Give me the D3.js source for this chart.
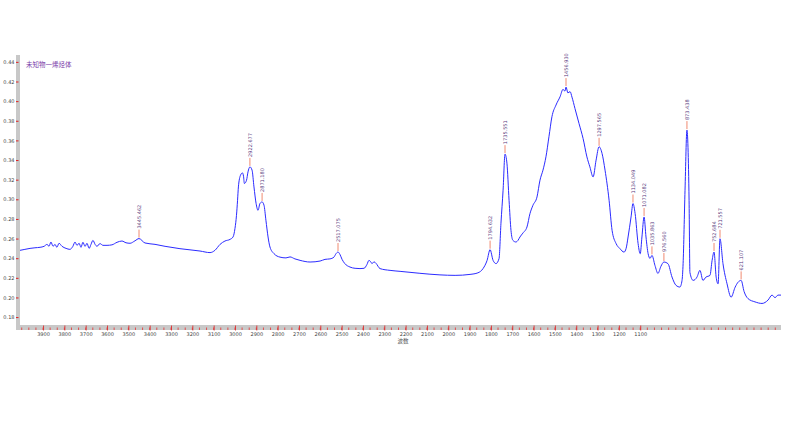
<!DOCTYPE html>
<html>
<head>
<meta charset="utf-8">
<script src="https://cdn.jsdelivr.net/npm/d3@7/dist/d3.min.js"></script>
<style>
  body { margin: 0; background: #fff; }
</style>
</head>
<body>
<script>
// spectrum (cm-1 / absorbance)
const wavenumber = [4008, 3985, 3961, 3938, 3914, 3895, 3881, 3872, 3863, 3853, 3844, 3835, 3825, 3811, 3792, 3774, 3760, 3750, 3741, 3731,
    3722, 3713, 3703, 3694, 3684, 3675, 3666, 3656, 3647, 3633, 3619, 3600, 3577, 3553, 3530, 3511, 3492, 3469, 3450, 3422,
    3375, 3328, 3258, 3164, 3117, 3094, 3070, 3047, 3023, 3009, 3000, 2993, 2988, 2984, 2974, 2965, 2960, 2956, 2946, 2939,
    2930, 2920, 2911, 2901, 2892, 2883, 2873, 2864, 2855, 2845, 2836, 2817, 2789, 2761, 2742, 2719, 2695, 2648, 2601, 2578,
    2555, 2536, 2527, 2517, 2508, 2498, 2485, 2461, 2437, 2414, 2395, 2381, 2372, 2362, 2358, 2348, 2339, 2320, 2273, 2226,
    2133, 2039, 1968, 1898, 1861, 1837, 1818, 1804, 1790, 1776, 1762, 1753, 1743, 1734, 1725, 1715, 1706, 1697, 1683, 1673,
    1664, 1650, 1631, 1617, 1603, 1584, 1570, 1556, 1542, 1528, 1514, 1495, 1476, 1462, 1453, 1448, 1439, 1429, 1420, 1406,
    1387, 1368, 1350, 1336, 1321, 1307, 1293, 1279, 1265, 1246, 1232, 1213, 1195, 1176, 1166, 1157, 1143, 1134, 1124, 1110,
    1100, 1092, 1082, 1073, 1063, 1054, 1045, 1031, 1017, 1003, 989, 970, 951, 932, 914, 904, 899, 890, 881, 871,
    867, 852, 834, 820, 806, 792, 773, 763, 754, 744, 735, 726, 712, 693, 674, 655, 641, 627, 613, 595,
    562, 529, 501, 482, 468, 454, 440];

const absorbance = [0.2480, 0.2490, 0.2500, 0.2506, 0.2511, 0.2521, 0.2541, 0.2521, 0.2565, 0.2521, 0.2541, 0.2511, 0.2552, 0.2521, 0.2500, 0.2490, 0.2521, 0.2565, 0.2531, 0.2552,
    0.2511, 0.2562, 0.2521, 0.2552, 0.2500, 0.2541, 0.2582, 0.2541, 0.2521, 0.2549, 0.2531, 0.2531, 0.2536, 0.2562, 0.2575, 0.2557, 0.2552, 0.2577, 0.2600, 0.2555,
    0.2541, 0.2521, 0.2497, 0.2473, 0.2457, 0.2480, 0.2541, 0.2575, 0.2592, 0.2617, 0.2704, 0.2837, 0.2990, 0.3126, 0.3246, 0.3269, 0.3235, 0.3161, 0.3194, 0.3279,
    0.3330, 0.3297, 0.3126, 0.2957, 0.2888, 0.2957, 0.2973, 0.2940, 0.2787, 0.2616, 0.2514, 0.2446, 0.2411, 0.2403, 0.2413, 0.2393, 0.2378, 0.2361, 0.2371, 0.2388,
    0.2393, 0.2411, 0.2444, 0.2463, 0.2439, 0.2388, 0.2345, 0.2310, 0.2297, 0.2294, 0.2297, 0.2337, 0.2378, 0.2358, 0.2345, 0.2363, 0.2348, 0.2294, 0.2276, 0.2266,
    0.2246, 0.2230, 0.2225, 0.2235, 0.2251, 0.2294, 0.2378, 0.2487, 0.2378, 0.2345, 0.2396, 0.2756, 0.3093, 0.3460, 0.3368, 0.2990, 0.2684, 0.2582, 0.2565, 0.2582,
    0.2616, 0.2656, 0.2718, 0.2854, 0.2939, 0.3024, 0.3195, 0.3297, 0.3433, 0.3637, 0.3841, 0.3960, 0.4044, 0.4120, 0.4102, 0.4143, 0.4084, 0.4097, 0.4041, 0.3925,
    0.3772, 0.3620, 0.3432, 0.3330, 0.3228, 0.3399, 0.3535, 0.3467, 0.3297, 0.2990, 0.2684, 0.2548, 0.2497, 0.2462, 0.2501, 0.2616, 0.2820, 0.2957, 0.2855, 0.2548,
    0.2446, 0.2616, 0.2820, 0.2616, 0.2446, 0.2398, 0.2429, 0.2327, 0.2245, 0.2317, 0.2361, 0.2344, 0.2208, 0.2123, 0.2106, 0.2174, 0.2344, 0.3092, 0.3705, 0.2990,
    0.2255, 0.2174, 0.2207, 0.2276, 0.2174, 0.2207, 0.2225, 0.2378, 0.2463, 0.2207, 0.2139, 0.2598, 0.2344, 0.2139, 0.2003, 0.2105, 0.2156, 0.2174, 0.2060, 0.1989,
    0.1955, 0.1939, 0.1973, 0.2024, 0.1998, 0.2024, 0.2024];

// marked peaks: where they sit on the curve and the printed value
const peakAt = [3450, 2930, 2873, 2517, 1804, 1734, 1448, 1293, 1134, 1082, 1045, 989, 881, 754, 726, 627];
const peakText = ["3445.462", "2922.677", "2871.180", "2517.075", "1794.632", "1735.551", "1456.930", "1297.565",
    "1134.049", "1071.082", "1035.863", "976.560", "873.438", "752.684", "721.557", "621.107"];

const xTickValues = d3.range(3900, 1099, -100);
const yTickValues = [0.18, 0.20, 0.22, 0.24, 0.26, 0.28, 0.30, 0.32, 0.34, 0.36, 0.38, 0.40, 0.42, 0.44];
const titleText = "未知物一烯烃体";
const xAxisTitle = "波数";

const width = 800;
const height = 432;
const plot = { left: 20, right: 781, top: 55, bottom: 322 };

const svg = d3.select("body").append("svg")
    .attr("width", width)
    .attr("height", height)
    .style("display", "block");

svg.append("rect")
    .attr("width", width)
    .attr("height", height)
    .attr("fill", "#fff");

const x = d3.scaleLinear()
    .domain([4008, 440])
    .range([plot.left, plot.right]);

const y = d3.scaleLinear()
    .domain([0.175, 0.447])
    .range([plot.bottom, plot.top]);

// gray axis strips
svg.append("rect")
    .attr("x", 16)
    .attr("y", plot.top)
    .attr("width", 4)
    .attr("height", 330 - plot.top)
    .attr("fill", "#c8c8c8");

svg.append("rect")
    .attr("x", 16)
    .attr("y", 325)
    .attr("width", plot.right - 16)
    .attr("height", 5)
    .attr("fill", "#c8c8c8");

// y axis: red marks + labels
const yAxis = svg.append("g")
    .attr("transform", "translate(18.5,0)")
    .call(d3.axisLeft(y)
        .tickValues(yTickValues)
        .tickFormat(d3.format(".2f"))
        .tickSize(2.5)
        .tickPadding(1.5));
yAxis.select(".domain").remove();
yAxis.selectAll(".tick line").attr("stroke", "#e02020");
yAxis.selectAll(".tick text")
    .attr("fill", "#444")
    .style("font-family", "DejaVu Sans")
    .style("font-size", "5px");

// x axis minor marks on the band
const minorTicks = d3.range(4000, 440, -100 / 3);
svg.append("g")
    .selectAll("line")
    .data(minorTicks)
    .enter().append("line")
    .attr("x1", d => x(d))
    .attr("x2", d => x(d))
    .attr("y1", 327.5)
    .attr("y2", 330)
    .attr("stroke", "#e83030")
    .attr("stroke-width", 0.8);

const xAxis = svg.append("g")
    .attr("transform", "translate(0,325.5)")
    .call(d3.axisBottom(x)
        .tickValues(xTickValues)
        .tickFormat(d3.format("d"))
        .tickSize(5)
        .tickPadding(2));
xAxis.select(".domain").remove();
xAxis.selectAll(".tick line").attr("stroke", "#e02020").attr("stroke-width", 0.8);
xAxis.selectAll(".tick text")
    .attr("fill", "#444")
    .style("font-family", "DejaVu Sans")
    .style("font-size", "5px");

svg.append("text")
    .attr("x", 403)
    .attr("y", 343)
    .attr("text-anchor", "middle")
    .attr("fill", "#555")
    .style("font-family", "Noto Sans CJK SC")
    .style("font-size", "5.5px")
    .text(xAxisTitle);

svg.append("text")
    .attr("x", 26)
    .attr("y", 66.5)
    .attr("fill", "#7a3aa8")
    .style("font-family", "Noto Sans CJK SC")
    .style("font-size", "6.5px")
    .text(titleText);

// spectrum
const spectrum = wavenumber.map((w, i) => [w, absorbance[i]]);

svg.append("path")
    .datum(spectrum)
    .attr("fill", "none")
    .attr("stroke", "#2b2bff")
    .attr("stroke-width", 1)
    .attr("stroke-linejoin", "round")
    .attr("d", d3.line()
        .x(d => x(d[0]))
        .y(d => y(d[1]))
        .curve(d3.curveMonotoneX));

// peak markers
const peaks = peakAt.map((w, i) => {
    const pt = d3.least(spectrum, d => Math.abs(d[0] - w));
    return { w: w, a: pt[1], label: peakText[i] };
});

const pk = svg.append("g")
    .selectAll("g")
    .data(peaks)
    .enter().append("g")
    .attr("transform", d => `translate(${x(d.w)},${y(d.a)})`);

pk.append("line")
    .attr("x1", 0)
    .attr("x2", 0)
    .attr("y1", -1)
    .attr("y2", -9)
    .attr("stroke", "#f08a70")
    .attr("stroke-width", 1);

pk.append("text")
    .attr("transform", "translate(0,-10) rotate(-90)")
    .attr("dy", "0.35em")
    .attr("fill", "#5a3a80")
    .style("font-family", "DejaVu Sans")
    .style("font-size", "5px")
    .text(d => d.label);
</script>
</body>
</html>
